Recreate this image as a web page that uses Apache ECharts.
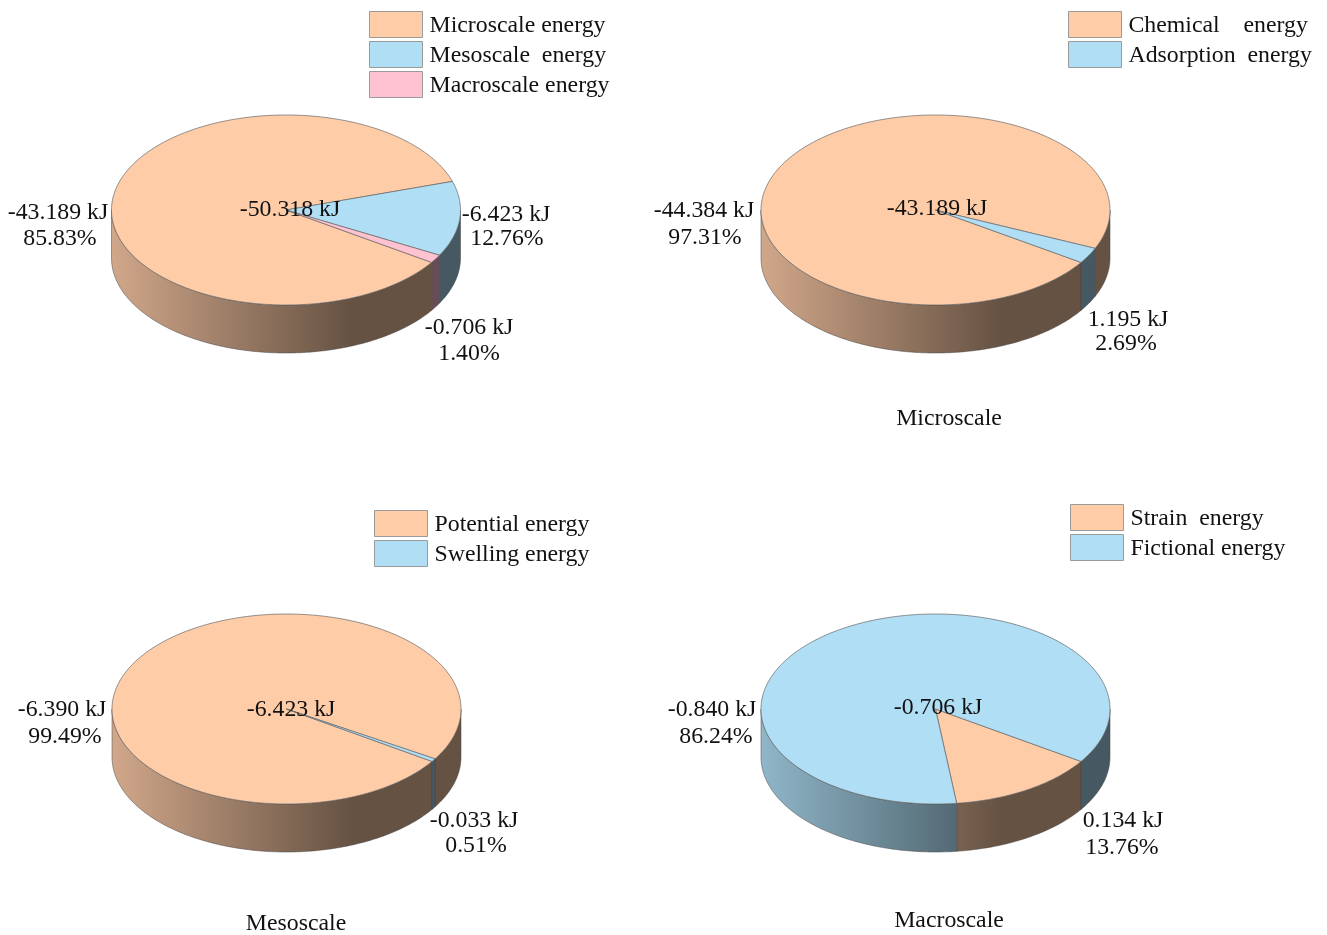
<!DOCTYPE html>
<html>
<head>
<meta charset="utf-8">
<title>Energy breakdown by scale</title>
<style>html,body{margin:0;padding:0;background:#fff}#chart{width:1327px;height:935px}</style>
<script src="https://cdn.jsdelivr.net/npm/echarts@6/dist/echarts.min.js"></script>
</head>
<body>
<div id="chart"></div>
<script>
// Energy components (kJ), their stated shares (%) and legend names for each pie.
const overviewNames = ['Microscale energy', 'Mesoscale  energy', 'Macroscale energy'];
const overviewValues = [-43.189, -6.423, -0.706];
const overviewShares = [85.83, 12.76, 1.40];

const microNames = ['Chemical    energy', 'Adsorption  energy'];
const microValues = [-44.384, 1.195];
const microShares = [97.31, 2.69];

const mesoNames = ['Potential energy', 'Swelling energy'];
const mesoValues = [-6.390, -0.033];
const mesoShares = [99.49, 0.51];

const macroNames = ['Strain  energy', 'Fictional energy'];
const macroValues = [0.134, -0.840];
const macroShares = [13.76, 86.24];

const captions = ['', 'Microscale', 'Mesoscale', 'Macroscale'];

// Palette and drawing constants
const ORANGE = [255, 204, 168], BLUE = [176, 222, 245], PINK = [255, 194, 209];
const FONT = '"Liberation Serif", "Times New Roman", serif';
const FONT_SIZE = 23.8;
const RX = 174.5, RY = 95, DEPTH = 48, START_ANGLE = -33.5;
const TEXT_DROP = 1.5;

const rgb = (c, k) => `rgb(${c.map(v => Math.round(v * k)).join(',')})`;

// Layout of each pie: centre, legend box, caption and label anchors
const pies = [
  { names: overviewNames, values: overviewValues, shares: overviewShares, colors: [ORANGE, BLUE, PINK],
    cx: 286, cy: 210, legend: [369, 11], captionAt: [0, 0], totalAt: [290, 208],
    valueAt: [[58, 211], [506, 213], [469, 326]], shareAt: [[60, 237], [507, 237], [469, 352]] },
  { names: microNames, values: microValues, shares: microShares, colors: [ORANGE, BLUE],
    cx: 935.5, cy: 210, legend: [1068, 11], captionAt: [949, 417], totalAt: [937, 207],
    valueAt: [[704, 209], [1128, 318]], shareAt: [[705, 236], [1126, 342]] },
  { names: mesoNames, values: mesoValues, shares: mesoShares, colors: [ORANGE, BLUE],
    cx: 286.5, cy: 709, legend: [374, 510], captionAt: [296, 922], totalAt: [291, 708],
    valueAt: [[62, 708], [474, 819]], shareAt: [[65, 735], [476, 844]] },
  { names: macroNames, values: macroValues, shares: macroShares, colors: [ORANGE, BLUE],
    cx: 935.5, cy: 709, legend: [1070, 504], captionAt: [949, 919], totalAt: [938, 706],
    valueAt: [[1123, 819], [712, 708]], shareAt: [[1122, 846], [716, 735]] }
];

function textEl(str, at) {
  return {
    type: 'text', z2: 50,
    style: { text: str, x: at[0], y: at[1] + TEXT_DROP, align: 'center', verticalAlign: 'middle',
             font: `${FONT_SIZE}px ${FONT}`, fill: '#111' }
  };
}

function ellipsePoint(pie, deg, dy) {
  const t = deg * Math.PI / 180;
  return [pie.cx + RX * Math.cos(t), pie.cy - RY * Math.sin(t) + (dy || 0)];
}

function arcPoints(pie, from, to, dy) {
  const pts = [];
  const n = Math.max(2, Math.ceil(Math.abs(to - from)));
  for (let i = 0; i <= n; i++) pts.push(ellipsePoint(pie, from + (to - from) * i / n, dy));
  return pts;
}

// Each slice runs clockwise from its start angle; the wall shows only on the front half of the rim.
function sliceRenderer(pie, index) {
  return function (params, api) {
    const before = pie.shares.slice(0, index).reduce((a, b) => a + b, 0);
    const a0 = START_ANGLE - before * 3.6;
    const a1 = a0 - api.value(0) * 3.6;
    const color = pie.colors[index];
    const children = [];

    [[-180, 0], [-540, -360]].forEach(([lo, hi]) => {
      const from = Math.min(a0, hi), to = Math.max(a1, lo);
      if (from <= to) return;
      const top = arcPoints(pie, from, to, 0);
      const bottom = arcPoints(pie, to, from, DEPTH);
      children.push({
        type: 'polygon', z2: 1,
        shape: { points: top.concat(bottom) },
        style: {
          fill: {
            type: 'linear', global: true,
            x: pie.cx - RX, y: 0, x2: pie.cx + 65, y2: 0,
            colorStops: [{ offset: 0, color: rgb(color, 0.82) }, { offset: 1, color: rgb(color, 0.4) }]
          },
          stroke: '#444', lineWidth: 0.5
        }
      });
    });

    children.push({
      type: 'polygon', z2: 2,
      shape: { points: [[pie.cx, pie.cy]].concat(arcPoints(pie, a0, a1, 0)) },
      style: { fill: rgb(color, 1), stroke: '#666', lineWidth: 0.7 }
    });

    children.push(textEl(pie.values[index].toFixed(3) + ' kJ', pie.valueAt[index]));
    children.push(textEl(pie.shares[index].toFixed(2) + '%', pie.shareAt[index]));
    return { type: 'group', children };
  };
}

const series = [];
pies.forEach(pie => {
  pie.names.forEach((name, i) => {
    series.push({
      type: 'custom', name, coordinateSystem: 'none', silent: true, animation: false,
      itemStyle: { color: rgb(pie.colors[i], 1) },
      data: [[pie.shares[i]]],
      renderItem: sliceRenderer(pie, i)
    });
  });
});

// Rich legend text sits slightly below the swatch centre.
const legends = pies.map(pie => ({
  data: pie.names, orient: 'vertical', left: pie.legend[0], top: pie.legend[1], padding: 0,
  itemWidth: 53, itemHeight: 26, itemGap: 3, icon: 'rect', selectedMode: false,
  itemStyle: { borderColor: '#9a9a9a', borderWidth: 1 },
  formatter: '{entry|{name}}',
  textStyle: {
    rich: {
      entry: { fontFamily: FONT, fontSize: FONT_SIZE, color: '#111', lineHeight: 26, padding: [3, 0, 0, 2] }
    }
  }
}));

// Totals in the pie centres and captions beneath the pies
const graphics = [];
pies.forEach((pie, i) => {
  const total = pie.values.reduce((a, b) => a + b, 0);
  graphics.push({
    type: 'text', z: 100, x: pie.totalAt[0], y: pie.totalAt[1] + TEXT_DROP, silent: true,
    style: { text: total.toFixed(3) + ' kJ', align: 'center', verticalAlign: 'middle',
             font: `${FONT_SIZE}px ${FONT}`, fill: '#111' }
  });
  if (captions[i]) {
    graphics.push({
      type: 'text', z: 100, x: pie.captionAt[0], y: pie.captionAt[1] + TEXT_DROP, silent: true,
      style: { text: captions[i], align: 'center', verticalAlign: 'middle',
               font: `${FONT_SIZE}px ${FONT}`, fill: '#111' }
    });
  }
});

const chart = echarts.init(document.getElementById('chart'), null, { renderer: 'canvas' });
chart.setOption({
  backgroundColor: '#fff',
  animation: false,
  legend: legends,
  graphic: graphics,
  series
});
</script>
</body>
</html>
